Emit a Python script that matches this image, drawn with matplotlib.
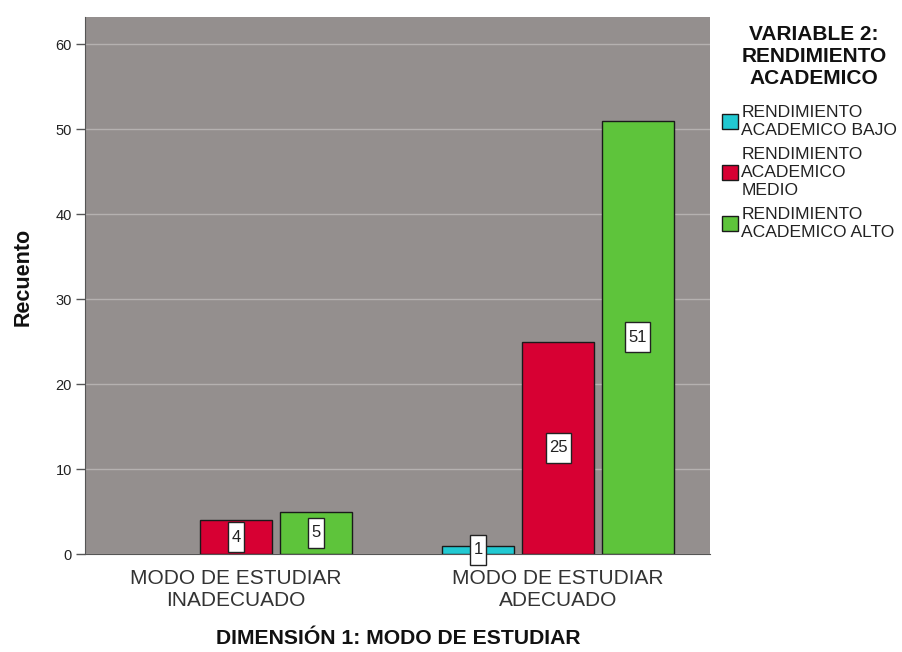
import matplotlib
matplotlib.use("Agg")
import matplotlib.pyplot as plt
import numpy as np
from matplotlib.patches import Patch, Rectangle
from matplotlib.transforms import ScaledTranslation

plt.rcParams["font.family"] = ["Liberation Sans", "DejaVu Sans"]

# data
categories = ["MODO DE ESTUDIAR\nINADECUADO", "MODO DE ESTUDIAR\nADECUADO"]
series = ["RENDIMIENTO\nACADEMICO BAJO", "RENDIMIENTO\nACADEMICO\nMEDIO",
          "RENDIMIENTO\nACADEMICO ALTO"]
bajo = [0, 1]
medio = [4, 25]
alto = [5, 51]
colors = ["#22c9d2", "#d70033", "#5ec43b"]

BG = "#948f8e"
DPI = 100

fig = plt.figure(figsize=(9.03, 6.52), dpi=DPI)
ax = fig.add_axes([85 / 903, 1 - 554 / 652, 625 / 903, 537 / 652])
ax.set_facecolor(BG)

xi = np.arange(len(categories))
w = 0.224
off = 0.248
for vals, c, k in zip([bajo, medio, alto], colors, [-1, 0, 1]):
    for x, v in zip(xi + k * off, vals):
        if v == 0:
            continue
        ax.bar(x, v, w, color=c, edgecolor="#1a1a1a", linewidth=1.0, zorder=3)
        # white value box (size in inches, anchored at bar middle)
        bw = (7 + 9 * len(str(v))) / DPI
        bh = 30 / DPI
        tr = fig.dpi_scale_trans + ScaledTranslation(x, v / 2, ax.transData)
        ax.add_patch(Rectangle((-bw / 2, -bh / 2), bw, bh, transform=tr,
                               fc="white", ec="#222222", lw=1.0, zorder=4,
                               clip_on=False))
        ax.text(x, v / 2, str(v), ha="center", va="center", fontsize=12,
                color="#222222", zorder=5)

ax.set_xlim(-0.469, 1.472)
ax.set_ylim(0, 63.2)
ax.set_yticks(range(0, 61, 10))
ax.yaxis.grid(True, color="#b5b1b0", lw=1.0, zorder=1)
ax.set_axisbelow(True)
ax.tick_params(axis="y", labelsize=10.5, length=6.5, width=1, color="#555555",
               pad=3, labelcolor="#222222")
ax.set_xticks(xi, categories)
ax.tick_params(axis="x", labelsize=15, length=0, pad=11, labelcolor="#333333")
for t in ax.get_xticklabels():
    t.set_linespacing(1.15)
for s in ["top", "right"]:
    ax.spines[s].set_visible(False)
ax.spines["left"].set_color("#555555")
ax.spines["bottom"].set_color("#555555")

fig.text(23 / 903, 1 - 277 / 652, "Recuento", rotation=90, ha="center",
         va="center", fontsize=15.5, fontweight="bold", color="#111111")
fig.text(398 / 903, 1 - 638 / 652, "DIMENSIÓN 1: MODO DE ESTUDIAR",
         ha="center", va="center", fontsize=15.2, fontweight="bold",
         color="#111111")

fig.text(814 / 903, 1 - 56 / 652, "VARIABLE 2:\nRENDIMIENTO\nACADEMICO",
         ha="center", va="center", fontsize=15, fontweight="bold",
         linespacing=1.2, color="#111111")

handles = [Patch(fc=c, ec="#1a1a1a", lw=1.0) for c in colors]
leg = fig.legend(handles, series, loc="upper left",
                 bbox_to_anchor=(722 / 903, 1 - 105 / 652), frameon=False,
                 fontsize=12.6, handlelength=0.9, handleheight=0.9,
                 handletextpad=0.2, labelspacing=0.55, borderpad=0,
                 borderaxespad=0)
for t in leg.get_texts():
    t.set_linespacing(1.22)
    t.set_color("#222222")

fig.savefig("out.png", dpi=DPI)
